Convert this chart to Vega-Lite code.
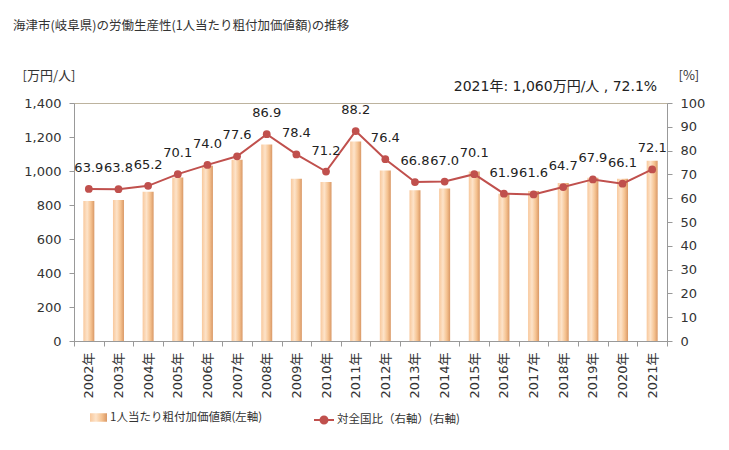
{
  "$schema": "https://vega.github.io/schema/vega-lite/v6.json",
  "width": 593,
  "height": 238,
  "autosize": {"type": "none"},
  "padding": {"left": 74, "top": 103, "right": 62, "bottom": 109},
  "background": "white",
  "config": {
    "view": {"stroke": "#bdb39e"},
    "font": "DejaVu Sans, Noto Sans CJK JP",
    "axis": {"labelFont": "DejaVu Sans, Noto Sans CJK JP", "labelFontSize": 13, "labelColor": "#333", "domainColor": "#999", "tickColor": "#999", "tickSize": 5, "grid": false, "labelOverlap": false, "titleFont": "Noto Sans CJK JP", "titleFontWeight": "normal", "titleFontSize": 13, "titleColor": "#333"}
  },
  "title": {"text": "海津市(岐阜県)の労働生産性(1人当たり粗付加価値額)の推移", "anchor": "start", "frame": "group", "dx": -61, "offset": 37, "font": "Noto Sans CJK JP", "fontSize": 12.5, "fontWeight": "normal", "color": "#333"},
  "data": {"values": [
    {"year": "2002年", "value": 824, "pct": 63.9},
    {"year": "2003年", "value": 830, "pct": 63.8},
    {"year": "2004年", "value": 878, "pct": 65.2},
    {"year": "2005年", "value": 962, "pct": 70.1},
    {"year": "2006年", "value": 1031, "pct": 74.0},
    {"year": "2007年", "value": 1066, "pct": 77.6},
    {"year": "2008年", "value": 1156, "pct": 86.9},
    {"year": "2009年", "value": 954, "pct": 78.4},
    {"year": "2010年", "value": 936, "pct": 71.2},
    {"year": "2011年", "value": 1174, "pct": 88.2},
    {"year": "2012年", "value": 1003, "pct": 76.4},
    {"year": "2013年", "value": 887, "pct": 66.8},
    {"year": "2014年", "value": 897, "pct": 67.0},
    {"year": "2015年", "value": 997, "pct": 70.1},
    {"year": "2016年", "value": 866, "pct": 61.9},
    {"year": "2017年", "value": 883, "pct": 61.6},
    {"year": "2018年", "value": 930, "pct": 64.7},
    {"year": "2019年", "value": 960, "pct": 67.9},
    {"year": "2020年", "value": 954, "pct": 66.1},
    {"year": "2021年", "value": 1060, "pct": 72.1}
  ]},
  "layer": [
    {
      "mark": {"type": "bar", "width": 11, "fill": {"gradient": "linear", "x1": 0, "y1": 0, "x2": 1, "y2": 0, "stops": [{"offset": 0, "color": "#f8c89c"}, {"offset": 0.35, "color": "#fde3c9"}, {"offset": 0.7, "color": "#f5c290"}, {"offset": 1, "color": "#d99866"}]}},
      "encoding": {
        "x": {"field": "year", "type": "ordinal", "title": null, "sort": null,
          "scale": {"paddingInner": 0, "paddingOuter": 0},
          "axis": {"labelAngle": -90, "tickBand": "extent", "labelPadding": 6, "labelFontSize": 13}},
        "y": {"field": "value", "type": "quantitative", "scale": {"domain": [0, 1400], "nice": false},
          "axis": {"values": [0, 200, 400, 600, 800, 1000, 1200, 1400], "format": ",.0f", "title": "[万円/人]", "titleAngle": 0, "titleAlign": "left", "titleBaseline": "middle", "titleX": -52, "titleY": -28, "labelPadding": 8, "labelOverlap": false}},
        "opacity": {"datum": "1人当たり粗付加価値額(左軸)", "type": "nominal", "scale": {"range": [1]},
          "legend": {"orient": "none", "legendX": 16, "legendY": 306, "title": null, "symbolType": "M-1,-0.5H1V0.5H-1Z", "symbolSize": 289, "symbolStrokeWidth": 0, "symbolFillColor": "#f4b98a", "labelFont": "Noto Sans CJK JP", "labelFontSize": 11.5, "labelColor": "#333", "labelOffset": 3}}
      }
    },
    {
      "encoding": {
        "x": {"field": "year", "type": "ordinal", "title": null, "sort": null},
        "y": {"field": "pct", "type": "quantitative", "scale": {"domain": [0, 100]},
          "axis": {"orient": "right", "values": [0, 10, 20, 30, 40, 50, 60, 70, 80, 90, 100], "title": "[%]", "titleAngle": 0, "titleAlign": "left", "titleBaseline": "middle", "titleX": 11, "titleY": -28, "labelPadding": 8}}
      },
      "layer": [
        {
          "mark": {"type": "line", "strokeWidth": 2},
          "encoding": {
            "stroke": {"datum": "対全国比（右軸）(右軸)", "type": "nominal", "scale": {"range": ["#c0504d"]},
              "legend": {"orient": "none", "legendX": 239, "legendY": 306, "title": null, "symbolType": "M-1,0H1M-0.35,0A0.35,0.35 0 1 1 0.35,0A0.35,0.35 0 1 1 -0.35,0Z", "symbolSize": 400, "symbolStrokeWidth": 2, "symbolFillColor": "#c0504d", "labelFont": "Noto Sans CJK JP", "labelFontSize": 11.5, "labelColor": "#333", "labelOffset": 2}}
          }
        },
        {
          "mark": {"type": "point", "filled": true, "size": 60, "color": "#c0504d", "opacity": 1}
        },
        {
          "mark": {"type": "text", "fontSize": 13, "font": "DejaVu Sans", "color": "#222", "baseline": "alphabetic", "dy": -17},
          "encoding": {"text": {"field": "pct", "type": "quantitative", "format": ".1f"}}
        },
        {
          "data": {"values": [{"year": "2021年", "pct": 100, "label": "2021年: 1,060万円/人 , 72.1%"}]},
          "mark": {"type": "text", "fontSize": 14, "color": "#222", "align": "right", "baseline": "middle", "dx": 5, "dy": -16},
          "encoding": {"text": {"field": "label"}}
        }
      ]
    }
  ],
  "resolve": {"scale": {"y": "independent"}}
}
